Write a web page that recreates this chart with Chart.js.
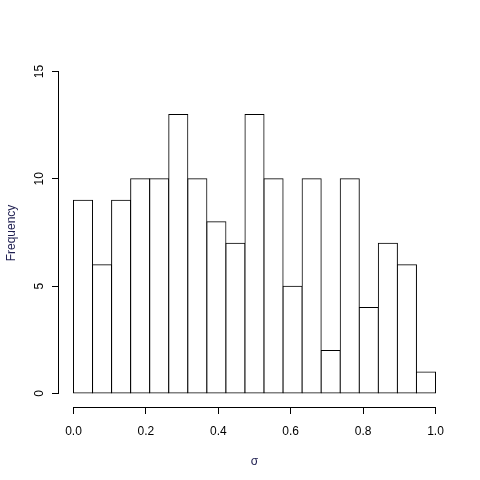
<!DOCTYPE html>
<html>
<head>
<meta charset="utf-8">
<title>Histogram of sigma</title>
<script src="https://cdn.jsdelivr.net/npm/chart.js@4/dist/chart.umd.min.js"></script>
<style>
	body { margin: 0; background: #fff; }
	#wrap { width: 480px; height: 480px; }
</style>
</head>
<body>
<div id="wrap"><canvas id="histo" width="480" height="480"></canvas></div>
<script>
/*-------------------------------------------------------------------------*/
// Data
/*-------------------------------------------------------------------------*/
// 19 equal bins between 0 and 1
var binCount = 19;
var binLow = 0;
var binHigh = 1;
var counts = [9, 6, 9, 10, 10, 13, 10, 8, 7, 13, 10, 5, 10, 2, 10, 4, 7, 6, 1];
var xTicks = [0, 0.2, 0.4, 0.6, 0.8, 1.0];
var yTicks = [0, 5, 10, 15];
var xTitle = 'σ';
var yTitle = 'Frequency';

var FONT = '"Liberation Sans", Arial, Helvetica, sans-serif';
var titleColor = '#1e1e50';

// bin centres from the break points
function binCentres() {
	var out = [];
	var w = (binHigh - binLow) / binCount;
	for (var i = 0; i < binCount; i++) out.push(binLow + w * (i + 0.5));
	return out;
}

var centres = binCentres();
var points = counts.map(function(c, i) { return { x: centres[i], y: c }; });

/*-------------------------------------------------------------------------*/
// R style axes: line only from first to last tick, rotated y labels
/*-------------------------------------------------------------------------*/
var rAxes = {
	id: 'rAxes',
	afterDraw: function(chart) {
		var ctx = chart.ctx;
		var xs = chart.scales.x, ys = chart.scales.y;
		var area = chart.chartArea;
		ctx.save();
		ctx.strokeStyle = '#000';
		ctx.lineWidth = 1;

		// x axis line
		var yLine = Math.round(area.bottom) + 0.5;
		ctx.beginPath();
		ctx.moveTo(xs.getPixelForValue(xTicks[0]), yLine);
		ctx.lineTo(xs.getPixelForValue(xTicks[xTicks.length - 1]), yLine);
		ctx.stroke();

		// y axis line
		var xLine = Math.round(area.left) - 0.5;
		ctx.beginPath();
		ctx.moveTo(xLine, ys.getPixelForValue(yTicks[0]));
		ctx.lineTo(xLine, ys.getPixelForValue(yTicks[yTicks.length - 1]));
		ctx.stroke();

		// y tick labels, parallel to the axis
		ctx.fillStyle = '#000';
		ctx.font = '12px ' + FONT;
		ctx.textAlign = 'center';
		ctx.textBaseline = 'middle';
		yTicks.forEach(function(v) {
			ctx.save();
			ctx.translate(40, ys.getPixelForValue(v));
			ctx.rotate(-Math.PI / 2);
			ctx.fillText(String(v), 0, 0);
			ctx.restore();
		});
		ctx.restore();
	}
};

/*-------------------------------------------------------------------------*/
// Chart
/*-------------------------------------------------------------------------*/
var histo = new Chart(document.getElementById('histo'), {
	type: 'bar',
	data: {
		datasets: [{
			data: points,
			backgroundColor: '#ffffff',
			borderColor: '#000000',
			borderWidth: 1,
			borderSkipped: false,
			inflateAmount: 0.5,
			barPercentage: 1,
			categoryPercentage: 1
		}]
	},
	options: {
		responsive: false,
		devicePixelRatio: 1,
		animation: false,
		layout: { padding: { top: 59, right: 30, bottom: 0, left: 0 } },
		plugins: {
			legend: { display: false },
			tooltip: { enabled: false }
		},
		scales: {
			x: {
				type: 'linear',
				min: -0.04,
				max: 1.04,
				offset: false,
				afterBuildTicks: function(scale) {
					scale.ticks = xTicks.map(function(v) { return { value: v }; });
				},
				afterFit: function(scale) { scale.height = 73; },
				grid: {
					offset: false,
					drawOnChartArea: false,
					drawTicks: true,
					tickLength: 7,
					color: '#000',
					lineWidth: 1
				},
				border: { display: false },
				ticks: {
					autoSkip: false,
					maxRotation: 0,
					padding: 10,
					color: '#000',
					font: { family: FONT, size: 12 },
					callback: function(v) { return Number(v).toFixed(1); }
				},
				title: {
					display: true,
					text: xTitle,
					color: titleColor,
					font: { family: FONT, size: 12 },
					padding: { top: 0, bottom: 11 }
				}
			},
			y: {
				type: 'linear',
				min: -0.63,
				max: 15.58,
				afterBuildTicks: function(scale) {
					scale.ticks = yTicks.map(function(v) { return { value: v }; });
				},
				afterFit: function(scale) { scale.width = 59; },
				grid: {
					drawOnChartArea: false,
					drawTicks: true,
					tickLength: 7,
					color: '#000',
					lineWidth: 1
				},
				border: { display: false },
				ticks: { display: false },
				title: {
					display: true,
					text: yTitle,
					color: titleColor,
					font: { family: FONT, size: 12 },
					padding: { top: 4, bottom: 0 }
				}
			}
		}
	},
	plugins: [rAxes]
});
</script>
</body>
</html>
